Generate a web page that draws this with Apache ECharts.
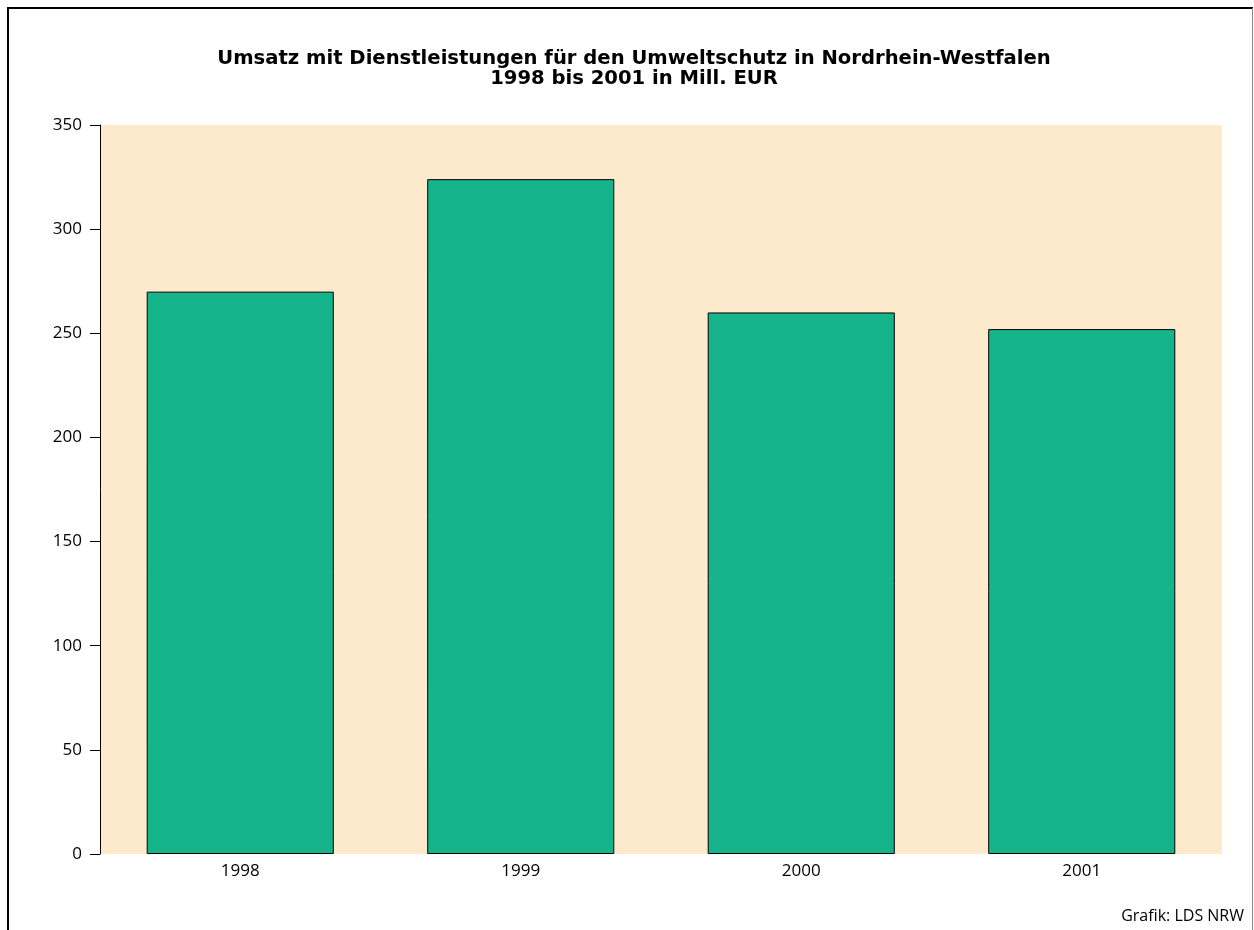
<!DOCTYPE html>
<html><head><meta charset="utf-8">
<script src="https://cdn.jsdelivr.net/npm/echarts@6/dist/echarts.min.js"></script>
<style>html,body{margin:0;padding:0;background:#fff}#c{width:1254px;height:930px}</style>
</head><body><div id="c"></div>
<script>
const categories = ['1998', '1999', '2000', '2001'];
const umsatz = [270, 324, 260, 252];
const yTicks = [0, 50, 100, 150, 200, 250, 300, 350];

const chart = echarts.init(document.getElementById('c'), null, {renderer: 'canvas'});
const font = '"Open Sans", "Noto Sans", sans-serif';
const titleFont = '"DejaVu Sans", "Open Sans", sans-serif';
chart.setOption({
  animation: false,
  backgroundColor: '#ffffff',
  title: {
    text: 'Umsatz mit Dienstleistungen für den Umweltschutz in Nordrhein-Westfalen\n1998 bis 2001 in Mill. EUR',
    left: 629, top: 44, textAlign: 'center',
    textStyle: {fontFamily: titleFont, fontWeight: 'bold', fontSize: 19.6, lineHeight: 20, color: '#000'}
  },
  grid: {left: 100, right: 32, top: 125, bottom: 76, show: true, backgroundColor: '#FDE9CC', borderWidth: 0},
  xAxis: {
    type: 'category', data: categories,
    axisLine: {show: false}, axisTick: {show: false},
    axisLabel: {fontFamily: font, fontSize: 17, color: '#000', margin: 9}
  },
  yAxis: {
    type: 'value', min: yTicks[0], max: yTicks[yTicks.length - 1], interval: 50,
    axisLine: {show: true, lineStyle: {color: '#000', width: 1}},
    axisTick: {show: true, length: 10, lineStyle: {color: '#000'}},
    splitLine: {show: false},
    axisLabel: {fontFamily: font, fontSize: 17, color: '#000', margin: 18}
  },
  series: [{
    type: 'bar', data: umsatz, barCategoryGap: '33.3%',
    itemStyle: {color: '#16B48A', borderColor: '#000', borderWidth: 1}
  }],
  graphic: [
    {type: 'line', shape: {x1: 8, y1: 8, x2: 1253, y2: 8}, style: {stroke: '#000', lineWidth: 2}},
    {type: 'line', shape: {x1: 8, y1: 7, x2: 8, y2: 930}, style: {stroke: '#000', lineWidth: 2}},
    {type: 'line', shape: {x1: 1252.5, y1: 8, x2: 1252.5, y2: 930}, style: {stroke: '#888', lineWidth: 1}},
    {type: 'text', right: 10, top: 908, style: {text: 'Grafik: LDS NRW', font: '16px ' + font, fill: '#000'}}
  ]
});
</script></body></html>
